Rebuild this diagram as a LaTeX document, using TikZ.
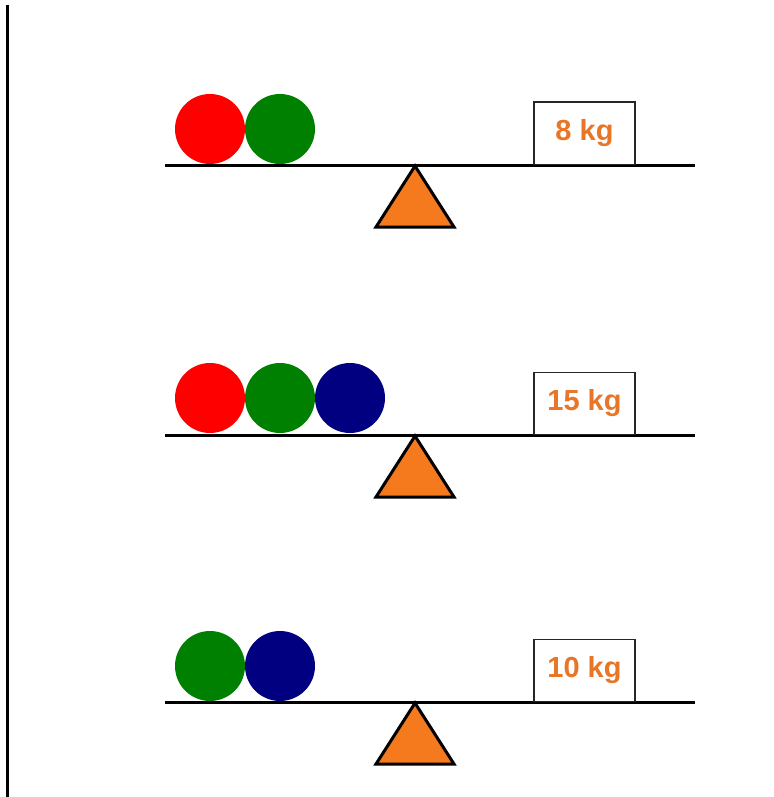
\documentclass[tikz,border=0pt]{standalone}
\usepackage{fontspec}
\setmainfont{Liberation Sans}
\definecolor{ballred}{RGB}{255,0,0}
\definecolor{ballgreen}{RGB}{0,128,0}
\definecolor{ballblue}{RGB}{0,0,128}
\definecolor{fulcrum}{RGB}{245,122,30}
\definecolor{labelorange}{RGB}{232,118,38}
\tikzset{
  ball/.style={circle,minimum size=70pt,inner sep=0pt,draw=none},
  beam/.style={line width=3pt},
  fulcrumtri/.style={draw=black,line width=3pt,fill=fulcrum,line join=miter},
  weightbox/.style={draw=black!85,line width=1.5pt,fill=white,minimum width=101pt,minimum height=62pt,inner sep=0pt,anchor=south,font=\fontsize{29}{32}\selectfont\bfseries,text=labelorange},
}
\begin{document}
\begin{tikzpicture}[x=1pt,y=-1pt]
\useasboundingbox (0,0) rectangle (773,797);
\coordinate (vtop) at (7,5);
\coordinate (vbot) at (7,797);
\draw[line width=3pt] (vtop) -- (vbot);
% balance 1
\coordinate (b1l) at (165,165);
\coordinate (b1r) at (695,165);
\draw[beam] (b1l) -- (b1r);
\node[ball,fill=ballred] (r1) at (210,129) {};
\node[ball,fill=ballgreen] (g1) at (280,129) {};
\node[weightbox] (w1) at (584.5,165) {8 kg};
\coordinate (t1a) at (415,166);
\coordinate (t1l) at (376,227);
\coordinate (t1r) at (454,227);
\draw[fulcrumtri] (t1a) -- (t1r) -- (t1l) -- cycle;
% balance 2
\coordinate (b2l) at (165,435);
\coordinate (b2r) at (695,435);
\draw[beam] (b2l) -- (b2r);
\node[ball,fill=ballred] (r2) at (210,398) {};
\node[ball,fill=ballgreen] (g2) at (280,398) {};
\node[ball,fill=ballblue] (u2) at (350,398) {};
\node[weightbox] (w2) at (584.5,435) {15 kg};
\coordinate (t2a) at (415,436);
\coordinate (t2l) at (376,497);
\coordinate (t2r) at (454,497);
\draw[fulcrumtri] (t2a) -- (t2r) -- (t2l) -- cycle;
% balance 3
\coordinate (b3l) at (165,702);
\coordinate (b3r) at (695,702);
\draw[beam] (b3l) -- (b3r);
\node[ball,fill=ballgreen] (g3) at (210,666) {};
\node[ball,fill=ballblue] (u3) at (280,666) {};
\node[weightbox] (w3) at (584.5,702) {10 kg};
\coordinate (t3a) at (415,703);
\coordinate (t3l) at (376,764);
\coordinate (t3r) at (454,764);
\draw[fulcrumtri] (t3a) -- (t3r) -- (t3l) -- cycle;
\end{tikzpicture}
\end{document}
